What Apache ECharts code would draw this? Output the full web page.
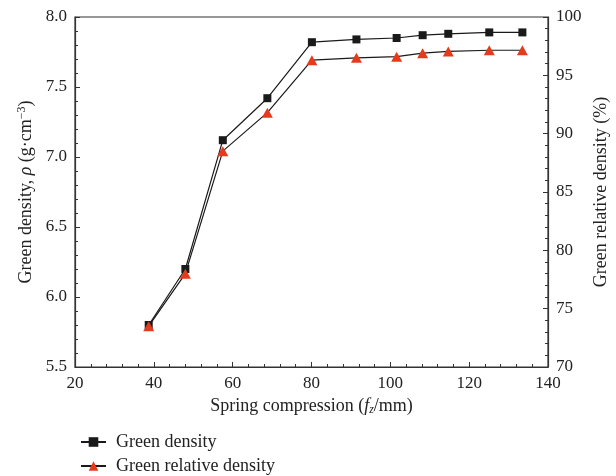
<!DOCTYPE html>
<html><head><meta charset="utf-8">
<script src="https://cdn.jsdelivr.net/npm/echarts@6/dist/echarts.min.js"></script>
<style>html,body{margin:0;padding:0;background:#fff}#c{width:616px;height:476px}</style>
</head><body><div id="c"></div>
<script>
const compression = [38.7, 48.0, 57.5, 68.8, 80.1, 91.4, 101.6, 108.2, 114.7, 125.1, 133.5];
const greenDensity = [5.80, 6.20, 7.12, 7.42, 7.82, 7.84, 7.85, 7.87, 7.88, 7.89, 7.89];
const relativeDensity = [73.5, 78.0, 88.5, 91.8, 96.3, 96.5, 96.6, 96.9, 97.05, 97.15, 97.15];
const seriesNames = ['Green density', 'Green relative density'];

const FONT = '"Liberation Serif", "DejaVu Serif", serif';
const TXT = '#222';
const AX = '#333';
const chart = echarts.init(document.getElementById('c'), null, {renderer: 'canvas'});
const axisCommon = {
  axisLine: {show: true, lineStyle: {color: AX, width: 1.2}},
  axisTick: {show: true, inside: true, length: 5, lineStyle: {color: AX}},
  minorTick: {show: true, splitNumber: 5, length: 3, lineStyle: {color: AX}},
  splitLine: {show: false},
  axisLabel: {color: TXT, fontFamily: FONT, fontSize: 17},
  nameTextStyle: {color: TXT, fontFamily: FONT, fontSize: 18}
};
chart.setOption({
  animation: false,
  grid: {left: 75, right: 68, top: 17, bottom: 109, show: true, borderColor: AX, borderWidth: 1.2,
         containLabel: false, outerBoundsMode: 'none'},
  xAxis: Object.assign({}, axisCommon, {
    type: 'value', min: 20, max: 140, interval: 20,
    name: '{a|Spring compression (}{i|f}{sub|z}{a|/mm)}',
    nameLocation: 'middle', nameGap: 28,
    axisLabel: Object.assign({}, axisCommon.axisLabel, {margin: 8}),
    nameTextStyle: {color: TXT, fontFamily: FONT, fontSize: 18, verticalAlign: 'top', rich: {
      a: {fontFamily: FONT, fontSize: 18, color: TXT},
      i: {fontFamily: FONT, fontSize: 18, color: TXT, fontStyle: 'italic'},
      sub: {fontFamily: FONT, fontSize: 12, color: TXT, fontStyle: 'italic', padding: [7, 0, 0, 0]}
    }}
  }),
  yAxis: [
    Object.assign({}, axisCommon, {
      type: 'value', min: 5.5, max: 8.0, interval: 0.5, position: 'left',
      name: '{a|Green density, }{i|ρ}{a| (g·cm}{sup|−3}{a|)}',
      nameLocation: 'middle', nameGap: 35, nameRotate: 90,
      axisLabel: Object.assign({}, axisCommon.axisLabel, {margin: 8, formatter: v => v.toFixed(1)}),
      nameTextStyle: {color: TXT, fontFamily: FONT, fontSize: 18, rich: {
        a: {fontFamily: FONT, fontSize: 18, color: TXT},
        i: {fontFamily: FONT, fontSize: 18, color: TXT, fontStyle: 'italic'},
        sup: {fontFamily: FONT, fontSize: 12, color: TXT, padding: [0, 0, 8, 0]}
      }}
    }),
    Object.assign({}, axisCommon, {
      type: 'value', min: 70, max: 100, interval: 5, position: 'right',
      name: 'Green relative density (%)',
      nameLocation: 'middle', nameGap: 41, nameRotate: 90,
      axisLabel: Object.assign({}, axisCommon.axisLabel, {margin: 8})
    })
  ],
  legend: {
    orient: 'vertical', left: 80, top: 433, height: 80, padding: 0,
    itemWidth: 25, itemHeight: 12, itemGap: 6,
    textStyle: {color: TXT, fontFamily: FONT, fontSize: 18, padding: [0, 0, 0, 5]},
    data: seriesNames
  },
  series: [
    {
      name: seriesNames[0], type: 'line', yAxisIndex: 0,
      data: compression.map((x, i) => [x, greenDensity[i]]),
      symbol: 'rect', symbolSize: 8,
      lineStyle: {color: '#1a1a1a', width: 1.2},
      itemStyle: {color: '#1a1a1a'}
    },
    {
      name: seriesNames[1], type: 'line', yAxisIndex: 1,
      data: compression.map((x, i) => [x, relativeDensity[i]]),
      symbol: 'triangle', symbolSize: [11, 10],
      lineStyle: {color: '#1a1a1a', width: 1.2},
      itemStyle: {color: '#e63a1c'}
    }
  ]
});
</script></body></html>
